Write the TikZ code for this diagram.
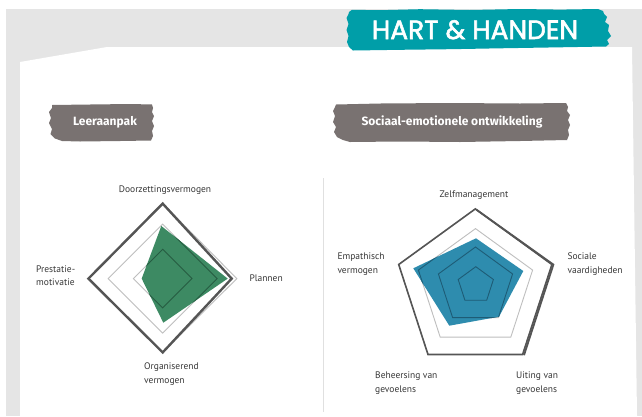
\documentclass[tikz,border=0pt]{standalone}
\usepackage{fontspec}
\setmainfont{PT Sans}
\newfontfamily\bannerfont{Poppins}[FakeBold=2]
\newfontfamily\boxfont{Fira Sans}
\definecolor{bggray}{RGB}{229,229,229}
\definecolor{bannerteal}{RGB}{0,158,168}
\definecolor{brushgray}{RGB}{121,114,113}
\definecolor{chartgreen}{RGB}{61,138,99}
\definecolor{chartblue}{RGB}{46,140,174}
\definecolor{darkline}{RGB}{85,85,85}
\definecolor{lightgrid}{RGB}{190,190,190}
\definecolor{gridgreen}{RGB}{38,92,66}
\definecolor{gridblue}{RGB}{30,92,118}
\definecolor{labeltext}{RGB}{55,55,55}
\definecolor{divider}{RGB}{224,224,224}
\tikzset{
  axislabel/.style={font=\fontsize{9.5}{11}\selectfont, text=labeltext, inner sep=0pt},
  boxlabel/.style={font=\boxfont\bfseries\fontsize{12}{14}\selectfont, text=white, inner sep=0pt},
  gridring/.style={draw=lightgrid, line width=0.9pt, line join=miter},
  gridover/.style={line width=0.9pt, line join=miter},
  seriesline/.style={draw=darkline, line join=miter},
}
\begin{document}
\begin{tikzpicture}[x=1pt,y=-1pt]
\useasboundingbox (0,0) rectangle (642,416);
\fill[white] (0,0) rectangle (642,416);
\fill[bggray] (6,9) rectangle (642,416);
% white panel
\fill[white] (20,416) -- (20,62) -- (107,47) -- (632,47) -- (637,416) -- cycle;
% banner
\fill[bannerteal] (349,12) -- (352,9.8) -- (380,10.2) -- (420,9.2) -- (470,10) -- (520,9) -- (560,9.6) -- (598,9) -- (603,11) -- (604,14) -- (607,17) -- (605,22) -- (609,25) -- (608,31) -- (611,36) -- (607,40) -- (609,44) -- (606,46.5) -- (560,47.3) -- (500,48.3) -- (450,49.2) -- (400,49.8) -- (353,50.5) -- (349,47) -- (347,42) -- (348.5,36) -- (346.5,30) -- (348.5,24) -- (346.5,18) -- (348.5,14) -- cycle;
\node[font=\bannerfont\fontsize{26.5}{30}\selectfont, text=white, inner sep=0pt, anchor=base] (title) at (475,39) {HART \& HANDEN};
% box Leeraanpak
\fill[brushgray] (52,105) -- (90,104.5) -- (130,104) -- (152,104.5) -- (153,108) -- (152,112) -- (154,116) -- (152,121) -- (154,126) -- (152,131) -- (153,136) -- (151,140.5) -- (120,141) -- (80,141.5) -- (62,141) -- (55,138.5) -- (50.5,134) -- (52,129) -- (49,123) -- (51,118) -- (49,112) -- (52,108) -- cycle;
\node[boxlabel] (leer) at (105,122) {Leeraanpak};
% box Sociaal
\fill[brushgray] (336,104.5) -- (380,103.5) -- (450,103) -- (520,103.5) -- (566,103) -- (568,107) -- (567,111) -- (570,115) -- (568,120) -- (570,125) -- (568,130) -- (569,135) -- (567,140) -- (520,141) -- (460,142) -- (400,141.5) -- (350,142) -- (343,140) -- (337,137) -- (334,132) -- (336,127) -- (333,122) -- (335,116) -- (333,111) -- (335,107) -- cycle;
\node[boxlabel] (soc) at (452,122) {Sociaal-emotionele ontwikkeling};
% divider
\draw[divider, line width=1pt] (323.5,178) -- (323.5,412);

% ===== left chart =====
\draw[gridring] (162.7,249.3) -- (192,278.6) -- (162.7,307.9) -- (133.4,278.6) -- cycle;
\draw[gridring] (162.7,224.1) -- (217.2,278.6) -- (162.7,333.1) -- (108.2,278.6) -- cycle;
\draw[gridring] (162.7,203.6) -- (236.8,278.6) -- (162.7,352.4) -- (88.4,278.6) -- cycle;
\fill[chartgreen] (161.3,226) -- (227.7,278.6) -- (163.3,322.7) -- (141.7,278.6) -- cycle;
\begin{scope}
\clip (161.3,226) -- (227.7,278.6) -- (163.3,322.7) -- (141.7,278.6) -- cycle;
\draw[gridover, draw=gridgreen] (162.7,249.3) -- (192,278.6) -- (162.7,307.9) -- (133.4,278.6) -- cycle;
\draw[gridover, draw=gridgreen] (162.7,224.1) -- (217.2,278.6) -- (162.7,333.1) -- (108.2,278.6) -- cycle;
\end{scope}
\draw[seriesline, line width=2.4pt] (162.7,203.6) -- (231.7,278.6) -- (162.7,352.4) -- (88.4,278.6) -- cycle;
\node[axislabel, anchor=base] (l1) at (165,192.5) {Doorzettingsvermogen};
\node[axislabel, anchor=base west] (l2a) at (36,272) {Prestatie-};
\node[axislabel, anchor=base west] (l2b) at (36,285.5) {motivatie};
\node[axislabel, anchor=base west] (l3) at (249.3,281.3) {Plannen};
\node[axislabel, anchor=base west] (l4a) at (144,369.5) {Organiserend};
\node[axislabel, anchor=base west] (l4b) at (144,383.3) {vermogen};

% ===== right chart =====
\draw[gridring] (475.8,266.7) -- (493.4,279.5) -- (486.7,300.2) -- (464.9,300.2) -- (458.2,279.5) -- cycle;
\draw[gridring] (475.5,247) -- (512.6,273.95) -- (498.4,317.55) -- (452.6,317.55) -- (438.4,273.95) -- cycle;
\draw[gridring] (475.5,228.6) -- (532.6,270.06) -- (510.8,337.14) -- (440.2,337.14) -- (418.4,270.06) -- cycle;
\draw[gridring] (475.3,208.9) -- (551.9,264.5) -- (522.6,354.5) -- (428,354.5) -- (398.7,264.5) -- cycle;
\fill[chartblue] (476,238.3) -- (523.3,271) -- (499,316.7) -- (449.3,325.7) -- (413.3,268.3) -- cycle;
\begin{scope}
\clip (476,238.3) -- (523.3,271) -- (499,316.7) -- (449.3,325.7) -- (413.3,268.3) -- cycle;
\draw[gridover, draw=gridblue] (475.8,266.7) -- (493.4,279.5) -- (486.7,300.2) -- (464.9,300.2) -- (458.2,279.5) -- cycle;
\draw[gridover, draw=gridblue] (475.5,247) -- (512.6,273.95) -- (498.4,317.55) -- (452.6,317.55) -- (438.4,273.95) -- cycle;
\draw[gridover, draw=gridblue] (475.5,228.6) -- (532.6,270.06) -- (510.8,337.14) -- (440.2,337.14) -- (418.4,270.06) -- cycle;
\end{scope}
\draw[seriesline, line width=1.6pt] (475.3,208.9) -- (551.9,264.5) -- (522.6,354.5) -- (428,354.5) -- (398.7,264.5) -- cycle;
\draw[seriesline, line width=1.8pt] (476.3,209.6) -- (553.4,264.6) -- (524,355.2);
\node[axislabel, anchor=base] (r1) at (474,197) {Zelfmanagement};
\node[axislabel, anchor=base west] (r2a) at (337.3,259.5) {Empathisch};
\node[axislabel, anchor=base west] (r2b) at (337.3,273.3) {vermogen};
\node[axislabel, anchor=base west] (r3a) at (567.3,259.5) {Sociale};
\node[axislabel, anchor=base west] (r3b) at (567.3,273.3) {vaardigheden};
\node[axislabel, anchor=base west] (r4a) at (375,378.7) {Beheersing van};
\node[axislabel, anchor=base west] (r4b) at (375,392.5) {gevoelens};
\node[axislabel, anchor=base west] (r5a) at (516,378.7) {Uiting van};
\node[axislabel, anchor=base west] (r5b) at (516,392.5) {gevoelens};
\end{tikzpicture}
\end{document}
